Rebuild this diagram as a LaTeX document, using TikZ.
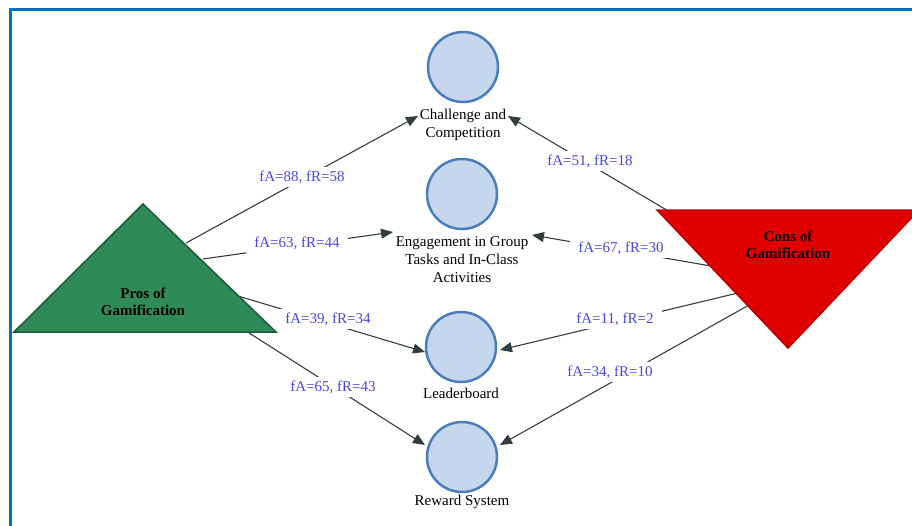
\documentclass[tikz,border=0pt]{standalone}
\usepackage{fontspec}
\setmainfont{Liberation Serif}
\usetikzlibrary{arrows.meta}
\definecolor{frameblue}{RGB}{0,112,192}
\definecolor{circfill}{RGB}{197,215,237}
\definecolor{circline}{RGB}{74,126,187}
\definecolor{prosfill}{RGB}{46,139,87}
\definecolor{prosline}{RGB}{30,90,55}
\definecolor{consfill}{RGB}{225,0,0}
\definecolor{consline}{RGB}{185,0,0}
\definecolor{edgecol}{RGB}{50,62,62}
\definecolor{labcol}{RGB}{72,72,225}
\begin{document}
\begin{tikzpicture}[x=1pt,y=-1pt,
  concept/.style={circle, draw=circline, fill=circfill, line width=2.5pt, minimum size=70pt, inner sep=0pt},
  ctext/.style={font=\fontsize{15}{18}\selectfont, align=center, inner sep=0pt},
  ttext/.style={font=\bfseries\fontsize{15}{17}\selectfont, align=center, inner sep=0pt},
  elabel/.style={font=\fontsize{15}{18}\selectfont, text=labcol, fill=white, inner xsep=8pt, inner ysep=4pt},
  link/.style={draw=edgecol, line width=1.1pt, -{Triangle[length=12pt,width=10pt]}}
]
\useasboundingbox (0,0) rectangle (912,525);
\draw[frameblue, line width=3pt] (10,545) -- (10,9) -- (935,9);

% start and end points
\coordinate (p1) at (186,243);
\coordinate (p2) at (203,259);
\coordinate (p3) at (238,296);
\coordinate (p4) at (246,331);
\coordinate (c1) at (670,212);
\coordinate (c2) at (711,266);
\coordinate (c3) at (738,293);
\coordinate (c4) at (749,305);
\coordinate (t1) at (418,116);
\coordinate (t1b) at (508,116);
\coordinate (t2) at (393,232);
\coordinate (t2b) at (532,235);
\coordinate (t3) at (425,352);
\coordinate (t3b) at (500,350);
\coordinate (t4) at (425,445);
\coordinate (t4b) at (500,445);

% connectors
\draw[link] (p1) -- (t1);
\draw[link] (p2) -- (t2);
\draw[link] (p3) -- (t3);
\draw[link] (p4) -- (t4);
\draw[link] (c1) -- (t1b);
\draw[link] (c2) -- (t2b);
\draw[link] (c3) -- (t3b);
\draw[link] (c4) -- (t4b);

% edge labels
\node[elabel] (l1) at (302,177) {fA=88, fR=58};
\node[elabel] (l2) at (297,243) {fA=63, fR=44};
\node[elabel] (l3) at (328,319) {fA=39, fR=34};
\node[elabel] (l4) at (333,387) {fA=65, fR=43};
\node[elabel] (l5) at (590,161) {fA=51, fR=18};
\node[elabel] (l6) at (621,248) {fA=67, fR=30};
\node[elabel] (l7) at (615,319) {fA=11, fR=2};
\node[elabel] (l8) at (610,372) {fA=34, fR=10};

% triangles
\filldraw[fill=prosfill, draw=prosline, line width=1.5pt] (143,204) -- (276,332) -- (14,332) -- cycle;
\node[ttext] (pros) at (143,302) {Pros of\\Gamification};
\filldraw[fill=consfill, draw=consline, line width=1.5pt] (657,210) -- (919,210) -- (788,348) -- cycle;
\node[ttext] (cons) at (788,245) {Cons of\\Gamification};

% concept circles
\node[concept] (chal) at (463,67) {};
\node[concept] (eng) at (462,194) {};
\node[concept] (lead) at (461,347) {};
\node[concept] (rew) at (462,457) {};
\node[ctext] (chalt) at (463,125) {Challenge and\\Competition};
\node[ctext] (engt) at (462,260) {Engagement in Group\\Tasks and In-Class\\Activities};
\node[ctext] (leadt) at (461,393) {Leaderboard};
\node[ctext] (rewt) at (462,502) {Reward System};
\end{tikzpicture}
\end{document}
